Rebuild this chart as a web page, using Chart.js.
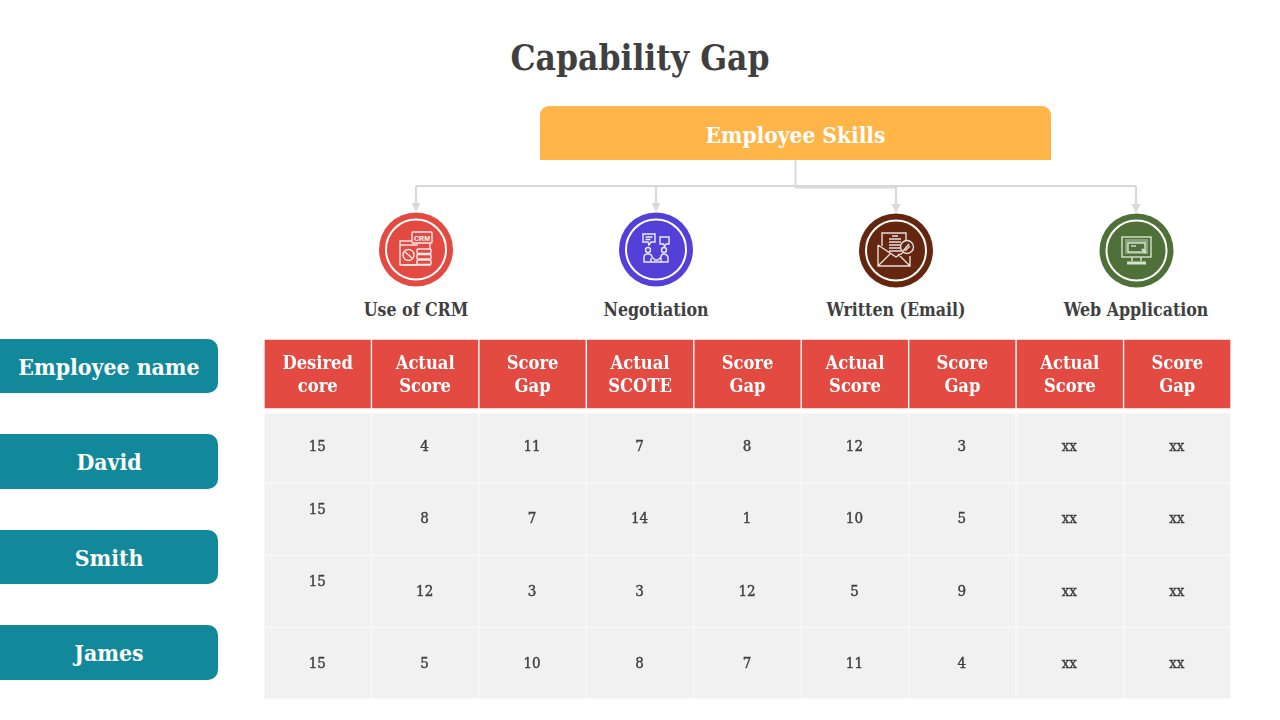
<!DOCTYPE html>
<html>
<head>
<meta charset="utf-8">
<title>Capability Gap</title>
<script src="https://cdn.jsdelivr.net/npm/chart.js@4/dist/chart.umd.min.js"></script>
<style>
  html, body { margin: 0; padding: 0; background: #fff; }
  body { width: 1280px; height: 720px; position: relative; overflow: hidden;
         font-family: "DejaVu Serif Condensed", "DejaVu Serif", serif; font-weight: bold; }
  .abs { position: absolute; text-align: center; white-space: nowrap; }
  #title { left: 340px; width: 600px; top: 33px; line-height: 50px; font-size: 35px; color: #404040; }
  #skills { left: 540px; width: 511px; top: 106px; height: 54px; line-height: 59px; background: #ffb547;
            border-radius: 9px 9px 0 0; color: #fff; font-size: 22.5px; }
  .pill { left: 0; width: 218px; background: #12899b; border-radius: 0 10px 10px 0; color: #fff; font-size: 22.8px; }
  .skill { width: 240px; top: 297px; line-height: 26px; font-size: 17.6px; color: #404040; }
  #tableChart { position: absolute; left: 264px; top: 339px; }
  #tree { position: absolute; left: 0; top: 0; }
</style>
</head>
<body>

<div class="abs" id="title">Capability Gap</div>
<div class="abs" id="skills">Employee Skills</div>

<svg id="tree" width="1280" height="320" fill="none">
  <!-- connectors -->
  <g stroke="#d9d9d9" stroke-width="2">
    <path d="M795.5 160V186M416 186H1136M795 187.6H896"/>
    <path d="M416 186V206M656 186V206M896 186V206M1136 186V206"/>
  </g>
  <g fill="#d9d9d9" stroke="none">
    <path d="M411.500 203h9l-4.500 9zM651.500 203h9l-4.500 9zM891.500 204h9l-4.500 9zM1131.500 204h9l-4.500 9z"/>
  </g>

  <!-- CRM -->
  <circle cx="416" cy="249.5" r="37" fill="#e34a42"/>
  <circle cx="416" cy="249.5" r="30" stroke="#fff" stroke-width="2"/>
  <g stroke="#fff" stroke-width="1.4" opacity="0.9">
    <rect x="400" y="241" width="30" height="24"/>
    <path d="M400 245h18"/>
    <circle cx="408.500" cy="255" r="5.500"/>
    <path d="M405 252l7 6M403 265h14"/>
    <rect x="417" y="249" width="14" height="4.500" rx="1" fill="#e34a42"/>
    <rect x="417" y="254.500" width="14" height="4.500" rx="1" fill="#e34a42"/>
    <rect x="417" y="260" width="14" height="4.500" rx="1" fill="#e34a42"/>
    <rect x="412" y="232" width="20" height="11" rx="1" fill="#e34a42"/>
  </g>
  <text x="422" y="240.500" fill="#fff" font-size="7" font-family="Liberation Sans" font-weight="bold" text-anchor="middle">CRM</text>

  <!-- Negotiation -->
  <circle cx="656" cy="249.500" r="37" fill="#5340d8"/>
  <circle cx="656" cy="249.500" r="30" stroke="#fff" stroke-width="2"/>
  <g stroke="#fff" stroke-width="1.400" opacity="0.9">
    <path d="M643 234h12v8h-4l-2 3-1-3h-5zM645.500 237h7M645.500 239.500h5"/>
    <path d="M660 237h9v7h-3l-1.500 2.500-1-2.500h-3.500z"/>
    <circle cx="648" cy="250" r="2.500"/>
    <circle cx="664" cy="250" r="2.500"/>
    <path d="M644 262v-5q0-3 4-3t4 3l3 3h3l3-3q0-3 3-3t4 3v5zM651 262v-4M661 262v-4"/>
  </g>

  <!-- Written (Email) -->
  <circle cx="896" cy="250.500" r="37" fill="#65260f"/>
  <circle cx="896" cy="250.500" r="30" stroke="#fff" stroke-width="2"/>
  <g stroke="#fff" stroke-width="1.400" opacity="0.85">
    <path d="M882 246v-13h24v9"/>
    <path d="M878 245v21h32v-10M878 245l18 12 8-5M878 266l12-12M910 266l-12-12"/>
    <path d="M889 239h12M889 242h12M889 245h12M889 248h12M889 251h12M892 236h6" stroke-width="1.500"/>
    <circle cx="907" cy="247" r="6.500" fill="#65260f"/>
    <path d="M903 251l6-7M905 251l5-5"/>
  </g>

  <!-- Web Application -->
  <circle cx="1136.500" cy="250.500" r="37" fill="#4f7039"/>
  <circle cx="1136.500" cy="250.500" r="30" stroke="#fff" stroke-width="2"/>
  <g stroke="#d9e2d2" stroke-width="1.400">
    <rect x="1122" y="237" width="29" height="20"/>
    <rect x="1125" y="239" width="23" height="15" fill="#8aa079" stroke="none"/>
    <rect x="1128" y="243" width="17" height="9" fill="#4f7039"/>
    <path d="M1132 257v4M1141 257v4"/>
    <path d="M1127 263h19" stroke-width="3"/>
    <path d="M1142 249l4 4" stroke-width="2"/>
    <path d="M1131 246h5"/>
  </g>
</svg>

<div class="abs skill" style="left:296px">Use of CRM</div>
<div class="abs skill" style="left:536px">Negotiation</div>
<div class="abs skill" style="left:776px">Written (Email)</div>
<div class="abs skill" style="left:1016px">Web Application</div>

<div class="abs pill" style="top:339px;height:54px;line-height:56px">Employee name</div>
<div class="abs pill" style="top:434px;height:55px;line-height:56px">David</div>
<div class="abs pill" style="top:530px;height:54px;line-height:56px">Smith</div>
<div class="abs pill" style="top:625px;height:55px;line-height:56px">James</div>

<canvas id="tableChart" width="967" height="360"></canvas>

<script>
// ---- table contents ----
const HEADERS = [
  ["Desired", "core"], ["Actual", "Score"], ["Score", "Gap"],
  ["Actual", "SCOTE"], ["Score", "Gap"], ["Actual", "Score"],
  ["Score", "Gap"], ["Actual", "Score"], ["Score", "Gap"]
];

const ROWS = [
  [15, 4, 11, 7, 8, 12, 3, "xx", "xx"],
  [15, 8, 7, 14, 1, 10, 5, "xx", "xx"],
  [15, 12, 3, 3, 12, 5, 9, "xx", "xx"],
  [15, 5, 10, 8, 7, 11, 4, "xx", "xx"]
];

// row bands on the y axis, [top, bottom]
const HEADER_BAND = [0, 70];
const ROW_BANDS = [[74, 144], [144, 216.5], [216.5, 288.5], [288.5, 360]];

// where the numbers sit in each row
const ROW_TEXT_Y = [108, 180, 253, 325];
// the "15" in the first column does not sit centred in the middle two rows
const FIRST_COL_SHIFT = [0, -9, -10, 0];

const HEADER_FONT = 'bold 18.2px "DejaVu Serif Condensed", serif';
const CELL_FONT = '15px "DejaVu Serif Condensed", serif';

const columns = HEADERS.map((h, i) => String(i));

function bandDataset(band, color, border) {
  return {
    data: columns.map(() => band),
    backgroundColor: color,
    borderColor: border,
    borderWidth: 1,
    borderSkipped: false
  };
}

const tableText = {
  id: "tableText",
  afterDatasetsDraw(chart) {
    const { ctx, scales: { x, y } } = chart;
    ctx.save();
    ctx.textAlign = "center";
    ctx.textBaseline = "middle";

    ctx.fillStyle = "#fff";
    ctx.font = HEADER_FONT;
    HEADERS.forEach((lines, c) => {
      lines.forEach((line, i) => {
        ctx.fillText(line, x.getPixelForValue(c), y.getPixelForValue(25.5 + i * 22.5));
      });
    });

    // body text is a medium weight in the original, a thin stroke gets close
    ctx.fillStyle = "#404040";
    ctx.strokeStyle = "#404040";
    ctx.lineWidth = 0.4;
    ctx.font = CELL_FONT;
    ROWS.forEach((row, r) => {
      row.forEach((v, c) => {
        const shift = c === 0 ? FIRST_COL_SHIFT[r] : 0;
        const px = x.getPixelForValue(c) - 0.5;
        const py = y.getPixelForValue(ROW_TEXT_Y[r] + shift);
        ctx.fillText(String(v), px, py);
        ctx.strokeText(String(v), px, py);
      });
    });
    ctx.restore();
  }
};

new Chart(document.getElementById("tableChart"), {
  type: "bar",
  data: {
    labels: columns,
    datasets: [bandDataset(HEADER_BAND, "#e34a42", "#fff")]
      .concat(ROW_BANDS.map(b => bandDataset(b, "#f1f1f1", "#f9f9f9")))
  },
  options: {
    responsive: false,
    animation: false,
    events: [],
    layout: { padding: 0 },
    datasets: { bar: { grouped: false, barPercentage: 1, categoryPercentage: 1 } },
    plugins: { legend: { display: false }, tooltip: { enabled: false } },
    scales: {
      x: { display: false },
      y: { display: false, reverse: true, min: 0, max: 360 }
    }
  },
  plugins: [tableText]
});
</script>
</body>
</html>
